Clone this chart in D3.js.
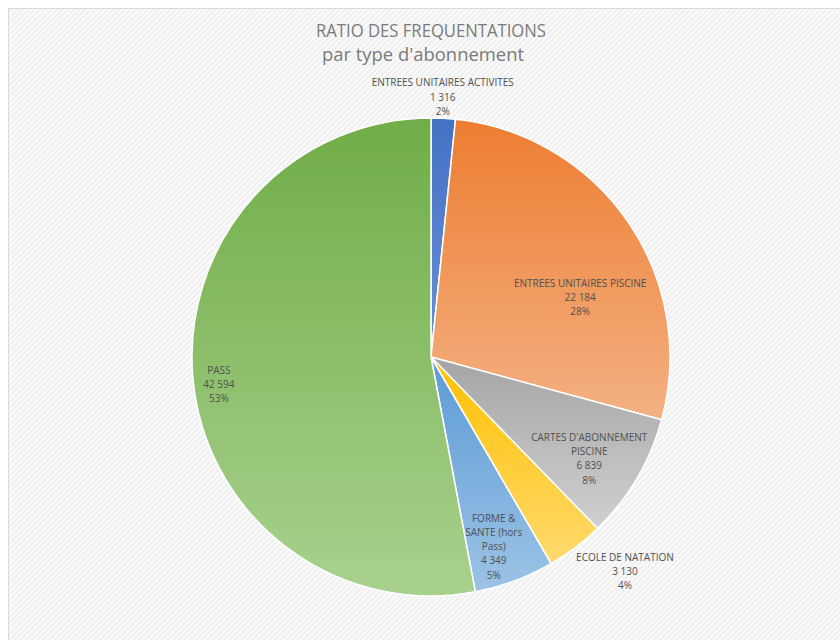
<!DOCTYPE html>
<html><head><meta charset="utf-8">
<script src="https://cdn.jsdelivr.net/npm/d3@7"></script>
<style>body{margin:0;background:#fff;} svg{display:block;}</style>
</head><body>
<svg id="c" width="840" height="640"></svg>
<script>
const categories = ["ENTREES UNITAIRES ACTIVITES","ENTREES UNITAIRES PISCINE","CARTES D'ABONNEMENT PISCINE","ECOLE DE NATATION","FORME & SANTE (hors Pass)","PASS"];
const values = [1316, 22184, 6839, 3130, 4349, 42594];
const valueLabels = ["1 316","22 184","6 839","3 130","4 349","42 594"];
const percentLabels = ["2%","28%","8%","4%","5%","53%"];
const labelLines = [["ENTREES UNITAIRES ACTIVITES"],["ENTREES UNITAIRES PISCINE"],["CARTES D'ABONNEMENT","PISCINE"],["ECOLE DE NATATION"],["FORME &","SANTE (hors","Pass)"],["PASS"]];
const colorsTop = ["#4472C4","#ED7D31","#A5A5A5","#FFC000","#5B9BD5","#70AD47"];
const colorsBottom = ["#6A8FD6","#F4B183","#D0D0D0","#FFDA6E","#9DC3E6","#A9D18E"];

const svg = d3.select("#c");
const defs = svg.append("defs");
const pat = defs.append("pattern").attr("id","hatch").attr("patternUnits","userSpaceOnUse")
  .attr("width",4).attr("height",4).attr("patternTransform","rotate(45)");
pat.append("rect").attr("width",4).attr("height",4).attr("fill","#efefef");
pat.append("rect").attr("width",2).attr("height",4).attr("fill","#fbfbfb");

svg.append("rect").attr("x",8.5).attr("y",8.5).attr("width",840).attr("height",640)
  .attr("fill","url(#hatch)").attr("stroke","#d9d9d9");

const font = "Open Sans, sans-serif";
svg.append("text").attr("x",431).attr("y",37).attr("text-anchor","middle")
  .attr("font-family",font).attr("font-size",18).attr("fill","#7a7a7a")
  .attr("textLength",230).attr("lengthAdjust","spacingAndGlyphs")
  .text("RATIO DES FREQUENTATIONS");
svg.append("text").attr("x",423).attr("y",61).attr("text-anchor","middle")
  .attr("font-family",font).attr("font-size",18).attr("fill","#7a7a7a")
  .attr("textLength",202).attr("lengthAdjust","spacingAndGlyphs")
  .text("par type d'abonnement");

values.forEach((v,i)=>{
  const g = defs.append("linearGradient").attr("id","g"+i).attr("x1",0).attr("y1",0).attr("x2",0).attr("y2",1);
  g.append("stop").attr("offset","0%").attr("stop-color",colorsTop[i]);
  g.append("stop").attr("offset","100%").attr("stop-color",colorsBottom[i]);
});

const cx = 431, cy = 357, R = 239;
const pie = d3.pie().sort(null).value(d=>d)(values);
const arc = d3.arc().innerRadius(0).outerRadius(R);
const gp = svg.append("g").attr("transform",`translate(${cx},${cy})`);
gp.selectAll("path").data(pie).join("path").attr("d",arc)
  .attr("fill",(d,i)=>`url(#g${i})`).attr("stroke","#fff").attr("stroke-width",1.5).attr("stroke-linejoin","round");

const labelRadius = [1.12, 0.62, 0.72, 1.17, 0.80, 0.90];
const labelShift = [[-2,7],[27,24],[10,14],[25,-9],[-4,10],[2,7]];
pie.forEach((d,i)=>{
  const a = (d.startAngle+d.endAngle)/2;
  const rr = R*labelRadius[i];
  const x = cx + Math.sin(a)*rr + labelShift[i][0];
  const y = cy - Math.cos(a)*rr + labelShift[i][1];
  const lines = labelLines[i].concat([valueLabels[i], percentLabels[i]]);
  const t = svg.append("text").attr("text-anchor","middle")
    .attr("font-family",font).attr("font-size",10).attr("fill","#505050");
  const n = lines.length, lh = 14.2;
  lines.forEach((l,k)=>{
    t.append("tspan").attr("x",x).attr("y", y + (k-(n-1)/2)*lh + 4).text(l);
  });
});
</script>
</body></html>
